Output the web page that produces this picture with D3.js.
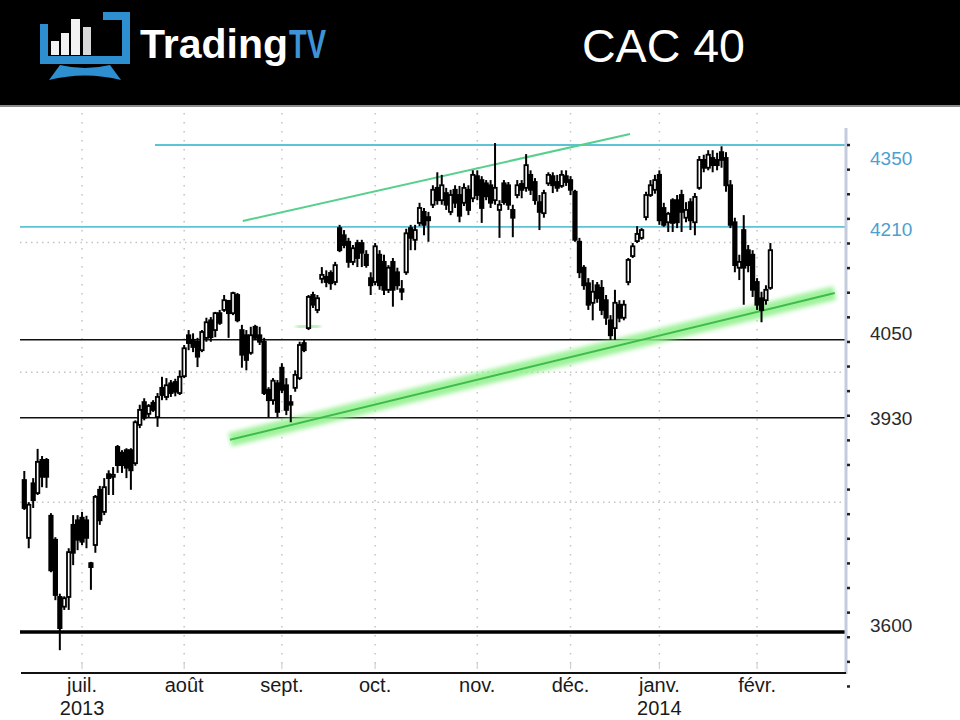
<!DOCTYPE html>
<html><head><meta charset="utf-8">
<script src="https://cdn.jsdelivr.net/npm/d3@7/dist/d3.min.js"></script>
<style>body{margin:0;background:#fff;overflow:hidden} svg{display:block}</style>
</head><body>
<svg id="c" width="960" height="720"></svg>
<script>
// ---------- DATA ----------
const firstDay = "2013-06-12", lastDay = "2014-02-06";
const holidays = ["2013-12-25","2013-12-26","2014-01-01"];
const open = [
3834,3745,3829,3814,3865,3865,3779,3742,3654,3639,
3654,3765,3772,3776,3772,3706,3734,3819,3785,3843,
3839,3885,3876,3880,3880,3860,3919,3954,3936,3953,
3931,3976,3962,3983,3985,3968,3994,4057,4050,4047,
4034,4053,4080,4065,4091,4096,4110,4091,4119,4065,
4057,4030,4070,4057,4047,3973,3957,3983,4007,3980,
3954,3976,3991,4045,4068,4119,4096,4144,4147,4153,
4139,4222,4211,4201,4170,4199,4199,4181,4145,4139,
4181,4170,4127,4170,4154,4128,4154,4222,4204,4230,
4247,4239,4258,4284,4265,4276,4247,4281,4273,4261,
4281,4268,4302,4296,4291,4288,4265,4250,4291,4288,
4250,4273,4290,4284,4304,4293,4262,4245,4291,4302,
4293,4287,4302,4296,4278,4201,4161,4137,4107,4134,
4130,4111,4080,4068,4104,4084,4139,4179,4202,4207,
4239,4273,4281,4304,4253,4231,4265,4265,4273,4238,
4262,4231,4284,4327,4315,4330,4327,4339,4330,4288,
4231,4161,4219,4188,4181,4139,4114,4111,4130];
const high = [
3848,3800,3837,3882,3871,3868,3783,3746,3659,3655,
3729,3780,3780,3785,3779,3708,3811,3825,3837,3849,
3854,3888,3880,3883,3883,3926,3950,3960,3951,3957,
3968,3993,3991,3988,3990,4003,4042,4065,4060,4053,
4065,4084,4085,4093,4096,4119,4111,4124,4122,4073,
4065,4070,4073,4070,4053,3977,3991,3988,4014,3991,
3965,4003,4047,4050,4119,4124,4119,4162,4157,4157,
4170,4227,4219,4207,4196,4204,4204,4188,4154,4199,
4188,4181,4165,4176,4161,4142,4221,4227,4227,4261,
4253,4247,4288,4308,4304,4284,4281,4288,4287,4291,
4288,4311,4311,4302,4296,4296,4353,4265,4296,4293,
4258,4296,4296,4336,4311,4299,4273,4281,4308,4308,
4304,4311,4311,4302,4281,4207,4165,4145,4142,4139,
4142,4119,4088,4127,4111,4111,4176,4199,4225,4222,
4278,4296,4304,4311,4261,4247,4268,4273,4281,4262,
4268,4276,4333,4335,4342,4342,4338,4348,4339,4296,
4238,4181,4242,4196,4188,4145,4124,4134,4199];
const low = [
3788,3729,3791,3811,3823,3822,3692,3649,3572,3634,
3634,3703,3726,3734,3729,3665,3722,3765,3780,3811,
3811,3845,3845,3837,3819,3856,3914,3926,3930,3939,
3916,3957,3957,3962,3963,3965,3991,4034,4031,4008,
4031,4047,4047,4054,4073,4093,4053,4088,4077,4007,
4003,4027,4050,4042,3965,3931,3950,3931,3968,3934,
3923,3970,3988,4031,4065,4099,4091,4137,4131,4127,
4134,4185,4191,4161,4165,4162,4162,4161,4119,4134,
4127,4119,4122,4101,4127,4111,4150,4188,4188,4225,
4211,4201,4253,4258,4258,4250,4242,4253,4231,4256,
4242,4262,4265,4230,4265,4253,4258,4207,4258,4250,
4208,4268,4268,4278,4273,4258,4219,4238,4287,4276,
4278,4284,4287,4273,4201,4145,4127,4096,4080,4107,
4088,4073,4050,4050,4077,4080,4134,4176,4199,4204,
4234,4270,4275,4227,4224,4216,4216,4222,4216,4231,
4219,4211,4281,4308,4311,4308,4311,4315,4278,4222,
4154,4142,4104,4154,4116,4096,4077,4104,4127];
const close = [
3791,3796,3803,3862,3839,3839,3695,3657,3606,3652,
3723,3722,3742,3739,3745,3700,3808,3772,3823,3837,
3842,3857,3857,3853,3849,3923,3942,3930,3948,3942,
3962,3965,3980,3968,3970,3993,4037,4045,4039,4024,
4062,4077,4054,4091,4076,4111,4091,4122,4080,4027,
4019,4057,4053,4047,3968,3957,3987,3939,3973,3942,
3950,3996,4042,4034,4116,4104,4114,4150,4139,4137,
4165,4188,4196,4170,4191,4176,4184,4165,4134,4194,
4134,4127,4161,4127,4134,4124,4214,4207,4219,4253,
4227,4234,4281,4265,4288,4258,4273,4261,4241,4284,
4250,4304,4273,4253,4271,4261,4284,4258,4262,4258,
4238,4288,4281,4319,4281,4265,4247,4276,4304,4288,
4284,4304,4293,4281,4204,4154,4134,4104,4124,4114,
4096,4084,4057,4107,4084,4104,4173,4194,4213,4219,
4273,4288,4296,4234,4227,4244,4230,4231,4247,4250,
4234,4270,4327,4315,4335,4319,4319,4327,4288,4227,
4165,4170,4161,4165,4127,4104,4096,4127,4188];
const monthLabels = ["juil.","août","sept.","oct.","nov.","déc.","janv.","févr."];
const yearLabels = ["2013","","","","","","2014",""];
const levelValues = [4350, 4224, 4050, 3930, 3600];
const levelLabels = ["4350","4210","4050","3930","3600"];
const gridValues = [3800, 4000, 4200];
// trendlines: [trading-day index, value]
const upperTrend = [[49.2, 4233], [136.4, 4367]];
const supportTrend = [[46.3, 3896], [182.5, 4122]];
const shortGreen = [[61.2, 4070], [66.6, 4071]];
const brand = ["Trading", "TV"];
const title = "CAC 40";

// ---------- SETUP ----------
const svg = d3.select("#c");
const fmt = d3.timeFormat("%Y-%m-%d");
const parse = d3.timeParse("%Y-%m-%d");
const days = d3.timeDay.range(parse(firstDay), d3.timeDay.offset(parse(lastDay), 1))
  .filter(d => d.getDay() !== 0 && d.getDay() !== 6 && !holidays.includes(fmt(d)));
const n = Math.min(days.length, open.length, high.length, low.length, close.length);
const candles = d3.range(n).map(i => ({i, date: days[i], o: open[i], h: high[i], l: low[i], c: close[i]}));

const step = 4.441;
const x = d3.scaleLinear().domain([0, n - 1]).range([24.3, 24.3 + step * (n - 1)]);
const y = d3.scaleLinear().domain([3600, 4350]).range([632, 145]);
const plotL = 20, plotR = 846, plotT = 113, plotB = 673;

// ---------- HEADER ----------
svg.append("rect").attr("x",0).attr("y",0).attr("width",960).attr("height",105).attr("fill","#000");
svg.append("rect").attr("x",0).attr("y",105).attr("width",960).attr("height",2).attr("fill","#8a8a8a");
const blue = "#2d8fd0";
const logo = svg.append("g");
logo.append("path").attr("d","M44,24 L44,60 L126,60 L126,16 L103,16")
  .attr("fill","none").attr("stroke",blue).attr("stroke-width",8);
[[51,41],[61,33],[71,19],[83,27]].forEach(([bx,top],k)=>{
  logo.append("rect").attr("x",bx).attr("y",top).attr("width",k===2?9:8).attr("height",55-top)
    .attr("fill", k===3 ? "#d8d8d8" : "#f2f2f2");
});
logo.append("path").attr("d","M60,65 Q85,71 110,65 L121,80 Q85,71 49,80 Z").attr("fill",blue);
const bfont = "'Liberation Sans Narrow','Arial Narrow',sans-serif";
svg.append("text").attr("x",140).attr("y",58).attr("fill","#fff")
  .attr("font-family",bfont).attr("font-size",40).attr("font-weight","bold")
  .attr("textLength",148).attr("lengthAdjust","spacingAndGlyphs").text(brand[0]);
svg.append("text").attr("x",289).attr("y",58).attr("fill","#3d93d6")
  .attr("font-family",bfont).attr("font-size",40).attr("font-weight","bold")
  .attr("textLength",37).attr("lengthAdjust","spacingAndGlyphs").text(brand[1]);
svg.append("text").attr("x",582).attr("y",62).attr("fill","#fff")
  .attr("font-family","'Liberation Sans',Arial,sans-serif").attr("font-size",46)
  .attr("textLength",163).attr("lengthAdjust","spacingAndGlyphs").text(title);

// ---------- GRID ----------
const monthStarts = candles.filter((d,k) => k > 0 && d.date.getMonth() !== candles[k-1].date.getMonth());
const g = svg.append("g");
g.selectAll(".vg").data(monthStarts).join("line")
  .attr("x1", d => x(d.i)).attr("x2", d => x(d.i)).attr("y1", plotT).attr("y2", plotB - 2)
  .attr("stroke","#c4c4c4").attr("stroke-width",1.5).attr("stroke-dasharray","1.5,7.5");
g.selectAll(".hg").data(gridValues).join("line")
  .attr("x1", plotL).attr("x2", plotR).attr("y1", d => y(d)).attr("y2", d => y(d))
  .attr("stroke","#c4c4c4").attr("stroke-width",1.5).attr("stroke-dasharray","1.5,4");

// ---------- LEVEL LINES ----------
const levelStyle = [
  {x0: 155, col: "#5fc3d6", w: 1.8},
  {x0: plotL, col: "#5fc3d6", w: 1.8},
  {x0: plotL, col: "#111", w: 1.6},
  {x0: plotL, col: "#111", w: 1.6},
  {x0: plotL, col: "#000", w: 3.5}];
svg.append("g").selectAll("line").data(levelValues).join("line")
  .attr("x1", (d,k) => levelStyle[k].x0).attr("x2", plotR)
  .attr("y1", d => y(d)).attr("y2", d => y(d))
  .attr("stroke", (d,k) => levelStyle[k].col).attr("stroke-width", (d,k) => levelStyle[k].w);

// ---------- TRENDLINES ----------
const defs = svg.append("defs");
defs.append("filter").attr("id","blur").attr("x","-10%").attr("y","-50%").attr("width","120%").attr("height","200%")
  .append("feGaussianBlur").attr("stdDeviation",2);
const line = d3.line().x(d => x(d[0])).y(d => y(d[1]));
svg.append("path").datum(supportTrend).attr("d", line).attr("stroke","#8ff08a").attr("stroke-width",14)
  .attr("fill","none").attr("opacity",0.85).attr("filter","url(#blur)");
svg.append("path").datum(supportTrend).attr("d", line).attr("stroke","#3dbb4c").attr("stroke-width",2)
  .attr("fill","none");
svg.append("path").datum(shortGreen).attr("d", line).attr("stroke","#7fe07f").attr("stroke-width",3)
  .attr("fill","none").attr("filter","url(#blur)");
svg.append("path").datum(upperTrend).attr("d", line).attr("stroke","#56d08c").attr("stroke-width",2)
  .attr("fill","none");

// ---------- CANDLES ----------
const bw = 3.4;
const cg = svg.append("g");
cg.selectAll(".wick").data(candles).join("line")
  .attr("x1", d => x(d.i)).attr("x2", d => x(d.i))
  .attr("y1", d => y(d.h)).attr("y2", d => y(d.l))
  .attr("stroke","#000").attr("stroke-width",2);
cg.selectAll(".body").data(candles).join("rect")
  .attr("x", d => x(d.i) - bw/2).attr("width", bw)
  .attr("y", d => y(Math.max(d.o, d.c)))
  .attr("height", d => Math.max(1.5, Math.abs(y(d.o) - y(d.c))))
  .attr("fill", d => d.c >= d.o ? "#fff" : "#000")
  .attr("stroke","#000").attr("stroke-width",1.8);

// ---------- AXES ----------
svg.append("line").attr("x1",plotR).attr("x2",plotR).attr("y1",128).attr("y2",plotB+1)
  .attr("stroke","#c3cbdc").attr("stroke-width",3);
const tickVals = d3.range(4350, 3500, -37.9);
svg.append("g").selectAll("rect").data(tickVals).join("rect")
  .attr("x", plotR + 1).attr("y", d => y(d) - 1.2).attr("width",3).attr("height",2.5).attr("fill","#222");
svg.append("line").attr("x1",plotL+1).attr("x2",plotR).attr("y1",plotB).attr("y2",plotB)
  .attr("stroke","#111").attr("stroke-width",2.2);
svg.append("g").selectAll("line").data(monthStarts).join("line")
  .attr("x1", d => x(d.i)).attr("x2", d => x(d.i)).attr("y1", plotB - 10).attr("y2", plotB - 4)
  .attr("stroke","#d0d0d0").attr("stroke-width",1.2);

const labelOffset = [13, 2, -7, 0, -7];
svg.append("g").selectAll("text").data(levelLabels).join("text")
  .attr("x", 870).attr("y", (d,k) => y(levelValues[k]) + labelOffset[k]).attr("dy","0.36em")
  .attr("font-family","'Liberation Sans',Arial,sans-serif").attr("font-size",19)
  .attr("fill", (d,k) => k < 2 ? "#4c9fcf" : "#2a2a2a").text(d => d);

const mfont = "'Liberation Sans Narrow','Arial Narrow',sans-serif";
svg.append("g").selectAll("text").data(monthStarts).join("text")
  .attr("x", d => x(d.i)).attr("y", 692).attr("text-anchor","middle")
  .attr("font-family", mfont).attr("font-size",20).attr("fill","#1a1a1a")
  .text((d,k) => monthLabels[k]);
svg.append("g").selectAll("text").data(monthStarts).join("text")
  .attr("x", d => x(d.i)).attr("y", 715).attr("text-anchor","middle")
  .attr("font-family", mfont).attr("font-size",20).attr("fill","#1a1a1a")
  .text((d,k) => yearLabels[k]);
</script>
</body></html>
